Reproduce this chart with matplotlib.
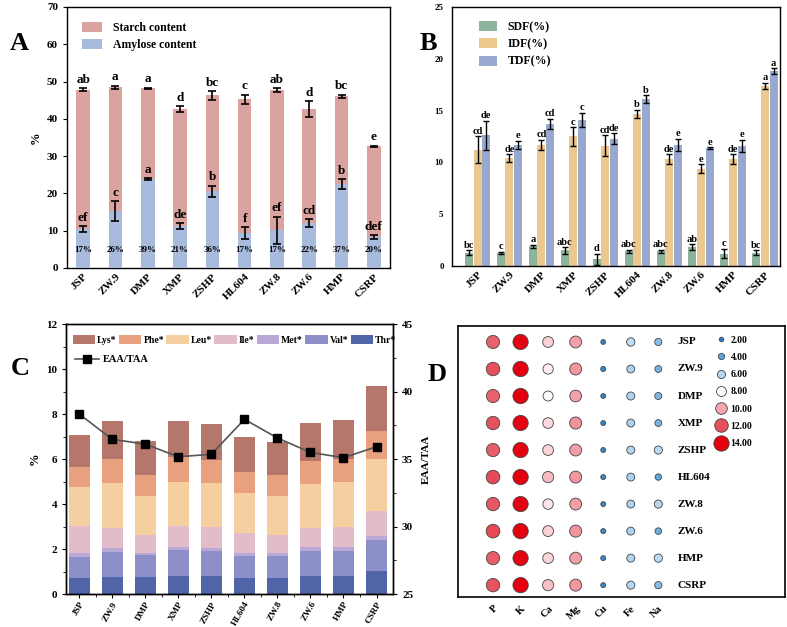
import matplotlib
matplotlib.use("Agg")
import matplotlib.pyplot as plt
import numpy as np
from matplotlib.colors import LinearSegmentedColormap, Normalize
from matplotlib.lines import Line2D

plt.rcParams['font.family'] = 'serif'
plt.rcParams['font.serif'] = ['Liberation Serif', 'DejaVu Serif']
plt.rcParams['font.weight'] = 'bold'
plt.rcParams['axes.labelweight'] = 'bold'
plt.rcParams['axes.linewidth'] = 1.0

samples = ['JSP', 'ZW.9', 'DMP', 'XMP', 'ZSHP', 'HL604', 'ZW.8', 'ZW.6', 'HMP', 'CSRP']

# --- A: starch / amylose
starch = [47.8, 48.5, 48.2, 42.7, 46.3, 45.2, 47.7, 42.6, 46.0, 32.6]
starch_err = [0.4, 0.4, 0.2, 0.8, 1.2, 1.3, 0.5, 2.2, 0.5, 0.2]
starch_sig = ['ab', 'a', 'a', 'd', 'bc', 'c', 'ab', 'd', 'bc', 'e']
amylose = [10.5, 15.3, 23.9, 11.3, 20.6, 9.4, 10.1, 12.0, 22.5, 8.4]
amylose_err = [0.8, 2.7, 0.2, 0.8, 1.5, 1.5, 3.7, 1.1, 1.4, 0.5]
amylose_sig = ['ef', 'c', 'a', 'de', 'b', 'f', 'ef', 'cd', 'b', 'def']
amylose_pct = ['17%', '26%', '39%', '21%', '36%', '17%', '17%', '22%', '37%', '20%']

# --- B: dietary fibre
sdf = [1.3, 1.25, 1.9, 1.5, 0.65, 1.4, 1.4, 1.8, 1.2, 1.3]
sdf_err = [0.2, 0.1, 0.15, 0.3, 0.55, 0.15, 0.15, 0.3, 0.45, 0.2]
sdf_sig = ['bc', 'c', 'a', 'abc', 'd', 'abc', 'abc', 'ab', 'c', 'bc']
idf = [11.2, 10.4, 11.7, 12.5, 11.6, 14.7, 10.3, 9.4, 10.3, 17.4]
idf_err = [1.3, 0.4, 0.5, 0.9, 1.0, 0.4, 0.5, 0.4, 0.5, 0.3]
idf_sig = ['cd', 'de', 'cd', 'c', 'cd', 'b', 'de', 'e', 'de', 'a']
tdf = [12.6, 11.7, 13.7, 14.1, 12.3, 16.1, 11.7, 11.35, 11.6, 18.8]
tdf_err = [1.4, 0.4, 0.5, 0.7, 0.5, 0.4, 0.6, 0.1, 0.6, 0.3]
tdf_sig = ['de', 'e', 'cd', 'c', 'de', 'b', 'e', 'e', 'e', 'a']

# --- C: essential amino acids (stack order bottom -> top)
thr = [0.70, 0.77, 0.76, 0.81, 0.81, 0.70, 0.73, 0.80, 0.80, 1.04]
val = [0.96, 1.08, 0.97, 1.15, 1.12, 1.00, 0.96, 1.13, 1.13, 1.36]
met = [0.15, 0.18, 0.11, 0.14, 0.13, 0.11, 0.12, 0.14, 0.14, 0.19]
ile = [1.21, 0.92, 0.80, 0.92, 0.90, 0.92, 0.80, 0.86, 0.89, 1.10]
leu = [1.72, 1.97, 1.73, 1.97, 1.99, 1.74, 1.75, 1.96, 2.03, 2.31]
phe = [0.89, 1.08, 0.93, 1.10, 1.01, 0.94, 0.93, 1.02, 1.01, 1.23]
lys = [1.42, 1.69, 1.50, 1.60, 1.60, 1.55, 1.47, 1.68, 1.72, 2.01]
eaa_taa = [38.33, 36.46, 36.10, 35.17, 35.35, 37.94, 36.56, 35.49, 35.10, 35.91]

# --- D: minerals (rows = samples, cols = elements)
elements = ['P', 'K', 'Ca', 'Mg', 'Cu', 'Fe', 'Na']
minerals = [
    [11.6, 13.9, 9.0, 10.2, 2.3, 6.3, 5.0],
    [12.0, 14.0, 8.4, 10.3, 2.6, 5.8, 4.6],
    [11.6, 14.0, 8.1, 10.1, 2.3, 5.9, 4.8],
    [11.9, 13.9, 8.8, 10.4, 2.4, 5.8, 4.6],
    [11.7, 13.9, 8.9, 10.2, 2.5, 5.9, 6.1],
    [12.1, 14.0, 9.5, 10.3, 2.5, 5.8, 4.1],
    [11.8, 13.9, 8.6, 10.2, 2.4, 5.8, 6.0],
    [12.2, 14.0, 9.0, 10.4, 2.5, 5.8, 4.3],
    [11.7, 13.9, 8.9, 10.2, 2.5, 5.9, 6.2],
    [11.9, 14.0, 9.4, 10.3, 2.5, 6.0, 5.0],
]
legend_levels = [2.0, 4.0, 6.0, 8.0, 10.0, 12.0, 14.0]

fig = plt.figure(figsize=(7.87, 6.27), dpi=100)
x = np.arange(len(samples))

# ================= A =================
axA = fig.add_axes([0.0851, 0.5726, 0.4104, 0.4163])
w = 0.42
axA.bar(x, starch, w, color='#DBA39F', label='Starch content', zorder=2)
axA.bar(x, amylose, w, color='#A9BBDD', label='Amylose content', zorder=3)
axA.errorbar(x, starch, yerr=starch_err, fmt='none', ecolor='black', elinewidth=1.2,
             capsize=3, capthick=1.2, zorder=4)
axA.errorbar(x, amylose, yerr=amylose_err, fmt='none', ecolor='black', elinewidth=1.2,
             capsize=3, capthick=1.2, zorder=4)
for i in range(len(samples)):
    axA.text(x[i], starch[i] + starch_err[i] + 0.6, starch_sig[i], ha='center', va='bottom',
             fontsize=9.5, fontweight='bold')
    axA.text(x[i], amylose[i] + amylose_err[i] + 0.6, amylose_sig[i], ha='center', va='bottom',
             fontsize=9.5, fontweight='bold')
    axA.text(x[i], 4.9, amylose_pct[i], ha='center', va='center', fontsize=6.5, fontweight='bold')
axA.set_xlim(-0.5, 9.5)
axA.set_ylim(0, 70)
axA.set_yticks(np.arange(0, 71, 10))
axA.set_xticks(x)
axA.set_xticklabels(samples, rotation=45, ha='right', rotation_mode='anchor')
axA.tick_params(axis='x', direction='in', length=3, labelsize=8, pad=3)
axA.tick_params(axis='y', direction='out', length=3, labelsize=8)
axA.set_ylabel('%', fontsize=9, labelpad=4)
axA.legend(loc='upper left', frameon=False, fontsize=8.5, handlelength=1.7, handleheight=0.9,
           borderaxespad=0.9, labelspacing=0.4, handletextpad=0.9)

# ================= B =================
axB = fig.add_axes([0.5743, 0.5758, 0.4168, 0.4131])
bw = 0.25
off = 0.27
series = [(sdf, sdf_err, sdf_sig, '#8DB49A', 'SDF(%)', -off),
          (idf, idf_err, idf_sig, '#EDC88E', 'IDF(%)', 0.0),
          (tdf, tdf_err, tdf_sig, '#98A9CF', 'TDF(%)', off)]
for vals, errs, sig, col, lab, dx in series:
    axB.bar(x + dx, vals, bw, color=col, label=lab, zorder=2)
    axB.errorbar(x + dx, vals, yerr=errs, fmt='none', ecolor='black', elinewidth=1.0,
                 capsize=2.5, capthick=1.0, zorder=3)
    for i in range(len(samples)):
        axB.text(x[i] + dx, vals[i] + errs[i] + 0.05, sig[i], ha='center', va='bottom',
                 fontsize=7.5, fontweight='bold')
axB.set_xlim(-0.8, 9.47)
axB.set_ylim(0, 25)
axB.set_yticks(np.arange(0, 26, 5))
axB.set_xticks(x)
axB.set_xticklabels(samples, rotation=45, ha='right', rotation_mode='anchor')
axB.tick_params(axis='x', direction='in', length=3, labelsize=8, pad=3)
axB.tick_params(axis='y', direction='out', length=0, labelsize=6.5, pad=6)
axB.legend(loc='upper left', frameon=False, fontsize=8.5, handlelength=1.5, handleheight=0.9,
           borderaxespad=0.8, labelspacing=0.45, handletextpad=0.9,
           bbox_to_anchor=(0.04, 1.0))

# ================= C =================
axC = fig.add_axes([0.0839, 0.0526, 0.4155, 0.4306])
layers = [(thr, 'Thr*', '#5264A8'), (val, 'Val*', '#8C8FC8'), (met, 'Met*', '#B9A9D6'),
          (ile, 'Ile*', '#E2BCC9'), (leu, 'Leu*', '#F6CFA0'), (phe, 'Phe*', '#E9A07F'),
          (lys, 'Lys*', '#B5766B')]
bottom = np.zeros(len(samples))
bar_handles = {}
for vals, lab, col in layers:
    h = axC.bar(x, vals, 0.64, bottom=bottom, color=col, label=lab, zorder=2)
    bar_handles[lab] = h
    bottom = bottom + np.array(vals)
axC.set_xlim(-0.4, 9.5)
axC.set_ylim(0, 12)
axC.set_yticks(np.arange(0, 13, 2))
axC.set_yticks(np.arange(1, 12, 2), minor=True)
axC.set_xticks(x)
axC.set_xticks(x[:-1] + 0.5, minor=True)
axC.set_xticklabels(samples, rotation=60, ha='right', rotation_mode='anchor')
axC.tick_params(axis='x', which='both', direction='out', length=3, labelsize=6.6, pad=1.5)
axC.tick_params(axis='x', which='minor', length=2)
axC.tick_params(axis='y', which='major', direction='out', length=3, labelsize=8)
axC.tick_params(axis='y', which='minor', direction='out', length=2)
axC.set_ylabel('%', fontsize=9, labelpad=4)

axC2 = axC.twinx()
axC2.plot(x, eaa_taa, color='#555555', lw=1.2, marker='s', markersize=5.5,
          markerfacecolor='black', markeredgecolor='black', label='EAA/TAA', zorder=5)
axC2.set_ylim(25, 45)
axC2.set_yticks(np.arange(25, 46, 5))
axC2.set_yticks(np.arange(27.5, 45, 5), minor=True)
axC2.tick_params(axis='y', which='major', direction='out', length=3, labelsize=8)
axC2.tick_params(axis='y', which='minor', direction='out', length=2)
axC2.set_ylabel('EAA/TAA', fontsize=8, labelpad=6)

order = ['Lys*', 'Phe*', 'Leu*', 'Ile*', 'Met*', 'Val*', 'Thr*']
leg1 = axC2.legend([bar_handles[k] for k in order], order, loc='upper left', ncol=7,
                   frameon=False, fontsize=7, handlelength=2.3, handleheight=1.0,
                   columnspacing=0.25, handletextpad=0.2, borderaxespad=0.3,
                   bbox_to_anchor=(0.0, 0.985))
axC2.add_artist(leg1)
axC2.legend(loc='upper left', frameon=False, fontsize=7.5, handlelength=2.3,
            handletextpad=0.3, bbox_to_anchor=(0.0, 0.92))

# ================= D =================
axD = fig.add_axes([0.5820, 0.0478, 0.4155, 0.4322])
cmap = LinearSegmentedColormap.from_list(
    'bwr_min', ['#2C7FC9', '#5EA5DD', '#B3D7F2', '#FFFFFF', '#F4A5AE', '#E6505C', '#E3000F'])
norm = Normalize(2, 14)


def bubble_pt(v):
    # diameter in points for a value
    return (4.5 + (v - 2) * 0.9) * 0.72


vals = np.array(minerals)
rows, cols = np.meshgrid(np.arange(len(samples)), np.arange(len(elements)), indexing='ij')
axD.scatter(cols.ravel(), rows.ravel(), s=bubble_pt(vals.ravel()) ** 2,
            c=vals.ravel(), cmap=cmap, norm=norm, edgecolors='#444444', linewidths=0.6, zorder=3)
for i, name in enumerate(samples):
    axD.text(6.7, i, name, ha='left', va='center', fontsize=8, fontweight='bold')
axD.set_xlim(-1.27, 10.6)
axD.set_ylim(9.44, -0.59)
axD.set_xticks(np.arange(len(elements)))
axD.set_xticklabels(elements, rotation=45, ha='right', rotation_mode='anchor')
axD.tick_params(axis='x', length=0, labelsize=7.5, pad=5)
axD.set_yticks([])
axD.spines[:].set_linewidth(1.2)

handles = [Line2D([], [], ls='', marker='o', markersize=bubble_pt(v),
                  markerfacecolor=cmap(norm(v)), markeredgecolor='#444444', markeredgewidth=0.6)
           for v in legend_levels]
axD.legend(handles, ['%.2f' % v for v in legend_levels], loc='upper left',
           bbox_to_anchor=(0.77, 0.99), frameon=False, fontsize=7, labelspacing=0.85,
           handletextpad=0.45, handlelength=1.0, borderpad=0.2)

# panel letters
fig.text(0.024, 0.931, 'A', fontsize=19, fontweight='bold', ha='center', va='center')
fig.text(0.545, 0.931, 'B', fontsize=19, fontweight='bold', ha='center', va='center')
fig.text(0.026, 0.413, 'C', fontsize=19, fontweight='bold', ha='center', va='center')
fig.text(0.555, 0.402, 'D', fontsize=19, fontweight='bold', ha='center', va='center')

fig.savefig('out.png', dpi=100)
